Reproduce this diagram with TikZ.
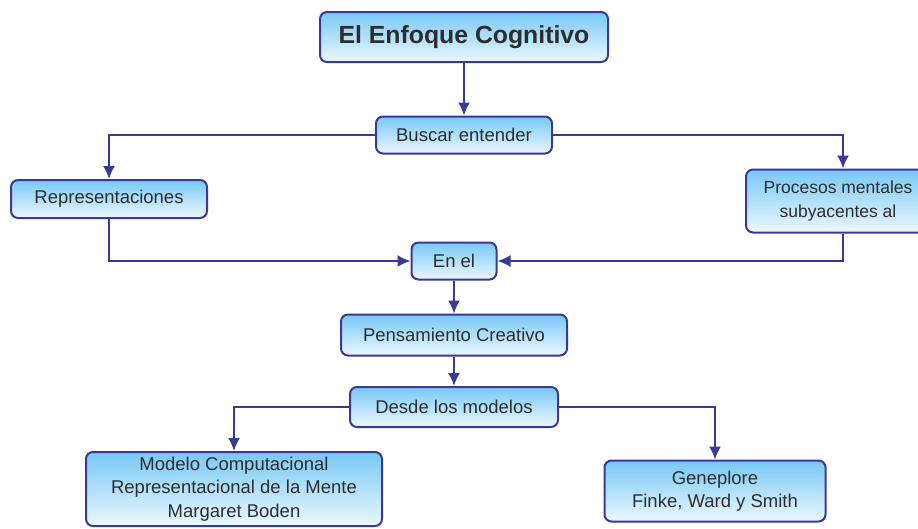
\documentclass[tikz,border=0pt]{standalone}
\usepackage{fontspec}
\setmainfont{Liberation Sans}
\usetikzlibrary{arrows.meta}
\definecolor{navy}{RGB}{58,58,150}
\definecolor{boxtop}{RGB}{120,200,245}
\definecolor{boxbot}{RGB}{236,248,255}
\definecolor{txt}{RGB}{45,45,45}
\tikzset{
  boxnode/.style={draw=navy, line width=2pt, rounded corners=7pt,
    top color=boxtop, bottom color=boxbot, text=txt, inner sep=0pt,
    align=center, font=\fontsize{18.5}{23.5}\selectfont},
  titlenode/.style={boxnode, font=\bfseries\fontsize{24.8}{28}\selectfont},
  conn/.style={draw=navy, line width=1.8pt},
  arr/.style={conn, -{Latex[length=13pt,width=12pt]}}
}
\begin{document}
\begin{tikzpicture}[x=1pt,y=-1pt]
\clip (0,0) rectangle (918,528);
\useasboundingbox (0,0) rectangle (918,528);
\fill[white] (0,0) rectangle (918,528);
\node[titlenode, minimum width=288pt, minimum height=50pt] (title) at (464,37) {El Enfoque Cognitivo};
\node[boxnode, minimum width=176pt, minimum height=37pt] (buscar) at (464,135) {Buscar entender};
\node[boxnode, minimum width=196pt, minimum height=38pt] (rep) at (109,199) {Representaciones};
\node[boxnode, minimum width=194pt, minimum height=63pt] (proc) at (843,201) {};
\node[text=txt, align=center, inner sep=0pt, font=\fontsize{17.5}{23.5}\selectfont] (proctext) at (838,201) {Procesos mentales\\subyacentes al};
\node[boxnode, minimum width=85pt, minimum height=37pt] (enel) at (454,261) {En el};
\node[boxnode, minimum width=226pt, minimum height=41pt] (pens) at (454,335) {Pensamiento Creativo};
\node[boxnode, minimum width=208pt, minimum height=40pt] (desde) at (454,407) {Desde los modelos};
\node[boxnode, minimum width=296pt, minimum height=74pt] (modelo) at (234,489) {Modelo Computacional\\Representacional de la Mente\\Margaret Boden};
\node[boxnode, minimum width=221pt, minimum height=61pt] (gene) at (715,491) {Geneplore\\Finke, Ward y Smith};

\draw[arr] (title.south) -- (buscar.north);
\draw[arr] (buscar.west) -| (rep.north);
\draw[arr] (buscar.east) -| (proc.north);
\draw[arr] (rep.south) |- (enel.west);
\draw[arr] (proc.south) |- (enel.east);
\draw[arr] (enel.south) -- (pens.north);
\draw[arr] (pens.south) -- (desde.north);
\draw[arr] (desde.west) -| (modelo.north);
\draw[arr] (desde.east) -| (gene.north);
\end{tikzpicture}
\end{document}
